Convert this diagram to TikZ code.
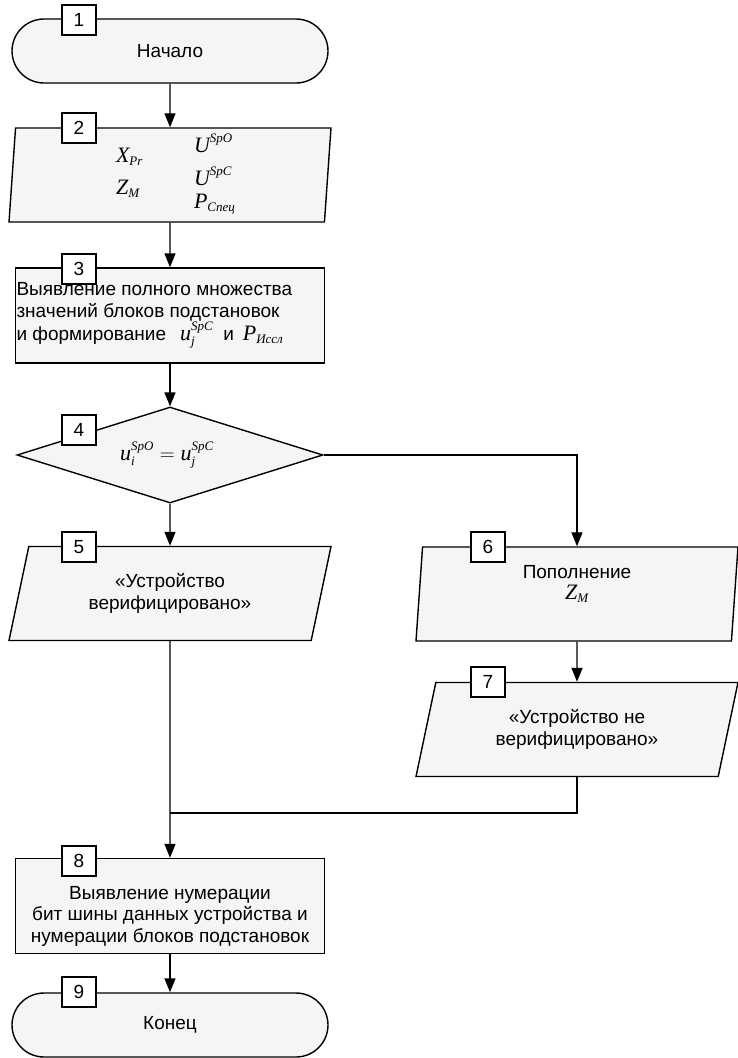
\documentclass[tikz,border=0pt]{standalone}
\usepackage{fontspec}
\usepackage{amsmath}
\setmainfont{Liberation Sans}
\newfontfamily\tms{Liberation Serif}
\usetikzlibrary{shapes.geometric,shapes.misc,arrows.meta}
\DeclareMathSizes{22}{22}{13}{10}
\newcommand{\mv}[1]{\text{\tms\itshape #1}}
\newcommand{\fm}[1]{{\fontsize{22}{22}\selectfont$#1$}}

\begin{document}
\begin{tikzpicture}[x=1pt, y=-1pt, line width=1.4pt,
    >={Triangle[width=11pt,length=14pt]},
    font=\fontsize{19}{21.5}\selectfont]

    % let's define some key values
    \def\xc{170}
    \def\xr{577}
    \def\xnl{79}
    \def\xnr{488}
    \def\yjoin{813}

    \useasboundingbox (0,0) rectangle (737,1058);

    % Styles
    \tikzstyle{blk}=[draw, fill=black!4, inner sep=0pt, align=center]
    \tikzstyle{term}=[blk, rounded rectangle, minimum width=316pt, minimum height=64pt]
    \tikzstyle{proc}=[blk, rectangle, minimum width=309pt, minimum height=95pt]
    \tikzstyle{data}=[blk, trapezium, trapezium left angle=63.4,
        trapezium right angle=116.6, trapezium stretches body,
        minimum width=322pt, minimum height=94pt]
    \tikzstyle{cond}=[blk, diamond, minimum width=306pt, minimum height=96pt]
    \tikzstyle{num}=[draw, fill=white, minimum width=34pt, minimum height=30pt, inner sep=0pt]
    \tikzstyle{txt}=[align=center, inner sep=1pt]

    % start
    \node[term] (b1) at (\xc,51) {Начало};
    % input data
    \node[data] (b2) at (\xc,175) {\phantom{M}};
    \node[anchor=west] (x2) at (112,157) {\fm{\mv{X}_{\mv{Pr}}}};
    \node[anchor=west] (z2) at (112,189) {\fm{\mv{Z}_{\mv{М}}}};
    \node[anchor=west] (uo2) at (190,143) {\fm{\mv{U}^{\mv{SpO}}}};
    \node[anchor=west] (uc2) at (190,176) {\fm{\mv{U}^{\mv{SpC}}}};
    \node[anchor=west] (p2) at (190,204) {\fm{\mv{P}_{\mv{Спец}}}};
    % full set of substitution blocks
    \node[proc] (b3) at (\xc,315.5) {};
    \node[anchor=west, align=left, inner sep=1pt] (t3) at (b3.west)
        {Выявление полного множества\\значений блоков подстановок\\
         и формирование\hspace{14pt}\fm{\mv{u}_{\mv{j}}^{\mv{SpC}}}\hspace{10pt}и\hspace{9pt}\fm{\mv{P}_{\mv{Иссл}}}};
    % condition
    \node[cond] (b4) at (\xc,455) {};
    \node[txt] (t4) at (167,455) {\fm{\mv{u}_{\mv{i}}^{\mv{SpO}} = \mv{u}_{\mv{j}}^{\mv{SpC}}}};
    % verified
    \node[data] (b5) at (\xc,593.5) {«Устройство\\верифицировано»};
    % supplement
    \node[data] (b6) at (\xr,594) {\phantom{M}};
    \node[txt] (t6) at (\xr,584) {Пополнение\\\fm{\mv{Z}_{\mv{М}}}};
    % not verified
    \node[data] (b7) at (\xr,729.5) {«Устройство не\\верифицировано»};
    % numbering
    \node[proc] (b8) at (\xc,906) {};
    \node[txt] (t8) at (\xc,916) {Выявление нумерации\\бит шины данных устройства и\\нумерации блоков подстановок};
    % end
    \node[term] (b9) at (\xc,1025) {Конец};

    % block numbers
    \node[num] (n1) at (\xnl,20) {1};
    \node[num] (n2) at (\xnl,128) {2};
    \node[num] (n3) at (\xnl,269) {3};
    \node[num] (n4) at (\xnl,430) {4};
    \node[num] (n5) at (\xnl,547) {5};
    \node[num] (n6) at (\xnr,547) {6};
    \node[num] (n7) at (\xnr,682) {7};
    \node[num] (n8) at (\xnl,861) {8};
    \node[num] (n9) at (\xnl,992) {9};

    % flow lines
    \coordinate (jn) at (\xc,\yjoin);
    \draw[->] (b1.south) -- (b2.north);
    \draw[->] (b2.south) -- (b3.north);
    \draw[->] (b3.south) -- (b4.north);
    \draw[->] (b4.south) -- (b5.north);
    \draw[->] (b4.east) -| (b6.north);
    \draw[->] (b6.south) -- (b7.north);
    \draw[->] (b5.south) -- (b8.north);
    \draw (b7.south) |- (jn);
    \draw[->] (b8.south) -- (b9.north);

\end{tikzpicture}
\end{document}
